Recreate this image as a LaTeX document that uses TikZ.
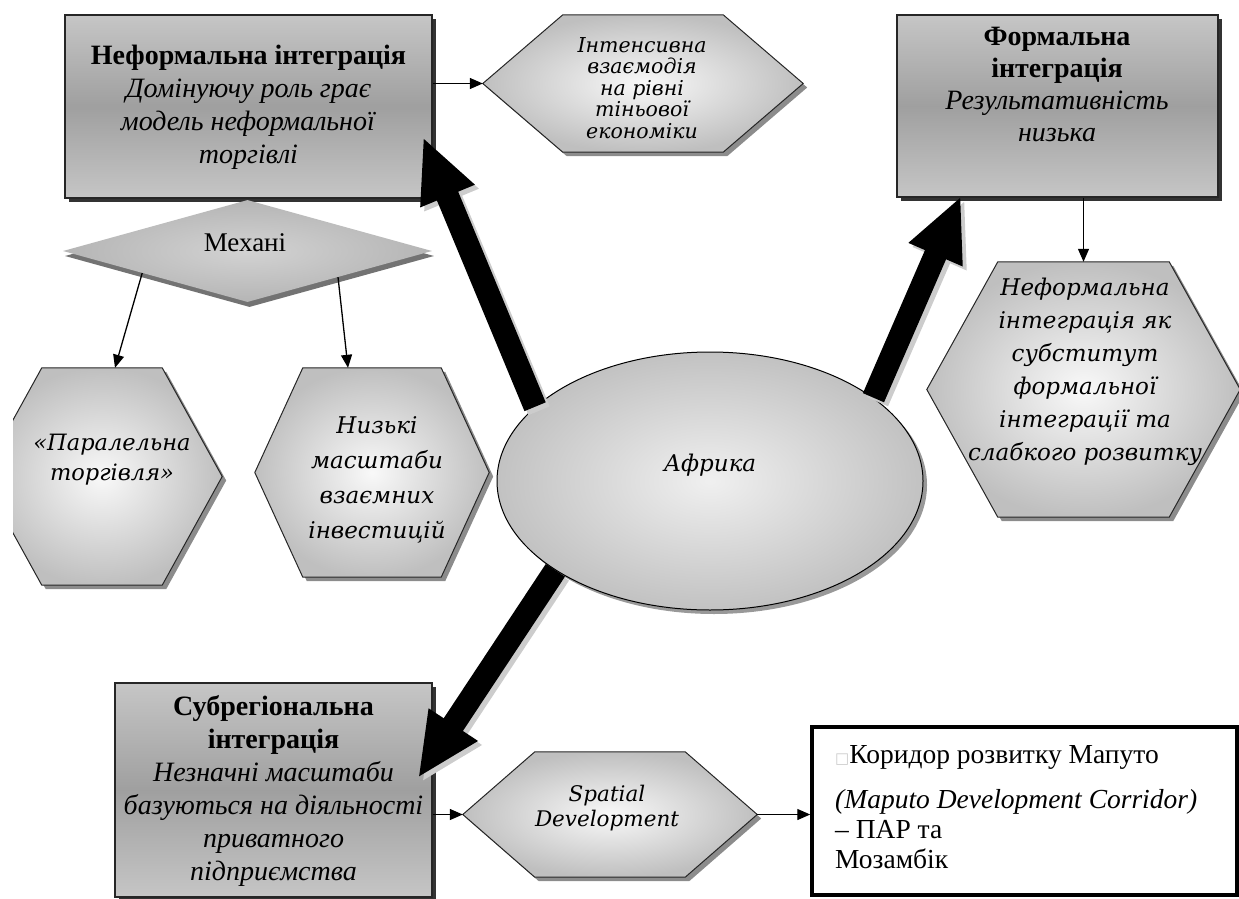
\documentclass[tikz,border=0pt]{standalone}
\usepackage{fontspec}
\setmainfont{Liberation Serif}
\newfontfamily\hexfont{DejaVu Serif}
\newfontfamily\symfont{DejaVu Sans}
\usetikzlibrary{arrows.meta,shapes.geometric,shadows,calc}
\tikzset{
  infobox/.style={rectangle, draw=black!85, line width=1.5pt, inner sep=0pt,
    top color=gray!45, bottom color=gray!45, middle color=gray!75,
    drop shadow={shadow xshift=4pt, shadow yshift=-4pt, fill=black!80, opacity=1}},
  boxtext/.style={align=center, inner sep=0pt, font=\fontsize{28pt}{33pt}\selectfont},
  hexcell/.style={draw=black!85, line width=1pt, inner color=gray!5, outer color=gray!50,
    drop shadow={shadow xshift=4pt, shadow yshift=-4pt, fill=black!45, opacity=1}},
  hexpath/.style 2 args={insert path={(#1.west) -- ([xshift=#2]#1.north west)
    -- ([xshift=-#2]#1.north east) -- (#1.east) -- ([xshift=-#2]#1.south east)
    -- ([xshift=#2]#1.south west) -- cycle}},
  hexbox/.style={rectangle, inner sep=0pt},
  hextext/.style={align=center, inner sep=0pt},
  thinarrow/.style={line width=1.3pt, -{Triangle[length=13pt,width=11pt]}},
  bigarrow/.style={line width=23pt, -{Triangle[length=64pt,width=54pt]}},
  bigshadow/.style={bigarrow, draw=gray!40, transform canvas={xshift=4pt, yshift=-4pt}}
}
\begin{document}
\begin{tikzpicture}[x=1pt,y=-1pt]
  \useasboundingbox (0,0) rectangle (1239,899);
  \node[infobox, minimum width=367pt, minimum height=183pt] (nfbox) at (248.5,106.5) {};
  \node[boxtext] (nftext) at (248.5,107) {\textbf{Неформальна інтеграція}\\\textit{Домінуючу роль грає}\\\textit{модель неформальної}\\\textit{торгівлі}};
  \node[infobox, minimum width=321pt, minimum height=182pt] (fbox) at (1057.5,106) {};
  \node[boxtext, font=\fontsize{28pt}{32pt}\selectfont] (ftext) at (1057,84) {\textbf{Формальна}\\\textbf{інтеграція}\\\textit{Результативність}\\\textit{низька}};
  \node[infobox, minimum width=317pt, minimum height=214pt] (subbox) at (273.5,790) {};
  \node[boxtext] (subtext) at (273.5,791) {\textbf{Субрегіональна}\\\textbf{інтеграція}\\\textit{Незначні масштаби}\\\textit{базуються на діяльності}\\\textit{приватного}\\\textit{підприємства}};
  \node[rectangle, draw, line width=3.5pt, fill=white, minimum width=425pt, minimum height=168pt] (corbox) at (1024.5,811) {};
  \node[anchor=north west, align=left, inner sep=0pt, font=\fontsize{27.5pt}{30pt}\selectfont] (cortext) at (835,745) {{\symfont\fontsize{15pt}{15pt}\selectfont\color{gray!40}□}Коридор розвитку Мапуто\\[15pt]\textit{(Maputo Development Corridor)}\\– ПАР та\\Мозамбік};
  \node[hexbox, minimum width=320pt, minimum height=137pt] (hexB) at (643,83.5) {};
  \path[hexcell, hexpath={hexB}{80pt}];
  \node[hextext, font=\hexfont\itshape\fontsize{20.5pt}{21.5pt}\selectfont] (hexBtext) at (642,88) {Інтенсивна\\взаємодія\\на рівні\\тіньової\\економіки};
  \node[hexbox, minimum width=313pt, minimum height=255pt] (hexD) at (1083.5,389.5) {};
  \path[hexcell, hexpath={hexD}{71pt}];
  \node[hextext, font=\hexfont\itshape\fontsize{23pt}{33pt}\selectfont] (hexDtext) at (1085,372) {Неформальна\\інтеграція як\\субститут\\формальної\\інтеграції та\\слабкого розвитку};
  \node[hexbox, minimum width=240pt, minimum height=217pt] (parallel) at (102,476.5) {};
  \begin{scope}
    \clip (13,0) rectangle (300,899);
    \path[hexcell, hexpath={parallel}{60pt}];
  \end{scope}
  \node[hextext, font=\hexfont\itshape\fontsize{22.5pt}{30pt}\selectfont] (paralleltext) at (112,460) {«Паралельна\\торгівля»};
  \node[hexbox, minimum width=234pt, minimum height=209pt] (lowinv) at (372,472.5) {};
  \path[hexcell, hexpath={lowinv}{48pt}];
  \node[hextext, font=\hexfont\itshape\fontsize{23pt}{35pt}\selectfont] (lowinvtext) at (377,480) {Низькі\\масштаби\\взаємних\\інвестицій};
  \node[hexbox, minimum width=294pt, minimum height=125pt] (spatial) at (610,814.5) {};
  \path[hexcell, hexpath={spatial}{72pt}];
  \node[hextext, font=\hexfont\itshape\fontsize{21.5pt}{25pt}\selectfont] (spatialtext) at (607,808) {Spatial\\Development};
  \node[diamond, aspect=3.6, inner sep=0pt, minimum width=369pt, minimum height=102pt, inner color=gray!35, outer color=gray!58,
    drop shadow={shadow xshift=2pt, shadow yshift=-5pt, fill=black!55, opacity=1}] (mech) at (247.5,251) {};
  \node[inner sep=0pt, font=\fontsize{27pt}{30pt}\selectfont] (mechtext) at (245,243) {Механі};
  \node[ellipse, draw, line width=1pt, minimum width=426pt, minimum height=258pt, inner color=gray!12, outer color=gray!48,
    drop shadow={shadow xshift=4pt, shadow yshift=-4pt, fill=black!40, opacity=1}] (africa) at (710,481) {};
  \node[inner sep=0pt, font=\hexfont\itshape\fontsize{23pt}{26pt}\selectfont] (africatext) at ([yshift=16pt]africa.center) {Африка};
  \draw[thinarrow] (nfbox.east |- hexB.west) -- (hexB.west);
  \draw[thinarrow] (fbox.south -| hexD.north) -- (hexD.north);
  \draw[thinarrow] ($(mech.west)!0.43!(mech.south)$) -- ([xshift=13pt]parallel.north);
  \draw[thinarrow] ($(mech.south)!0.49!(mech.east)$) -- ([xshift=-24pt]lowinv.north);
  \draw[thinarrow] (subbox.east |- spatial.west) -- (spatial.west);
  \draw[thinarrow] (spatial.east) -- (corbox.west |- spatial.east);
  \coordinate (tipA) at (423,137);
  \coordinate (tipF) at (961,196);
  \coordinate (tipS) at (418,778);
  \draw[bigshadow] (africa.157) -- (tipA);
  \draw[bigarrow] (africa.157) -- (tipA);
  \draw[bigshadow] (africa.27) -- (tipF);
  \draw[bigarrow] (africa.27) -- (tipF);
  \draw[bigshadow] (africa.210) -- (tipS);
  \draw[bigarrow] (africa.210) -- (tipS);
\end{tikzpicture}
\end{document}
